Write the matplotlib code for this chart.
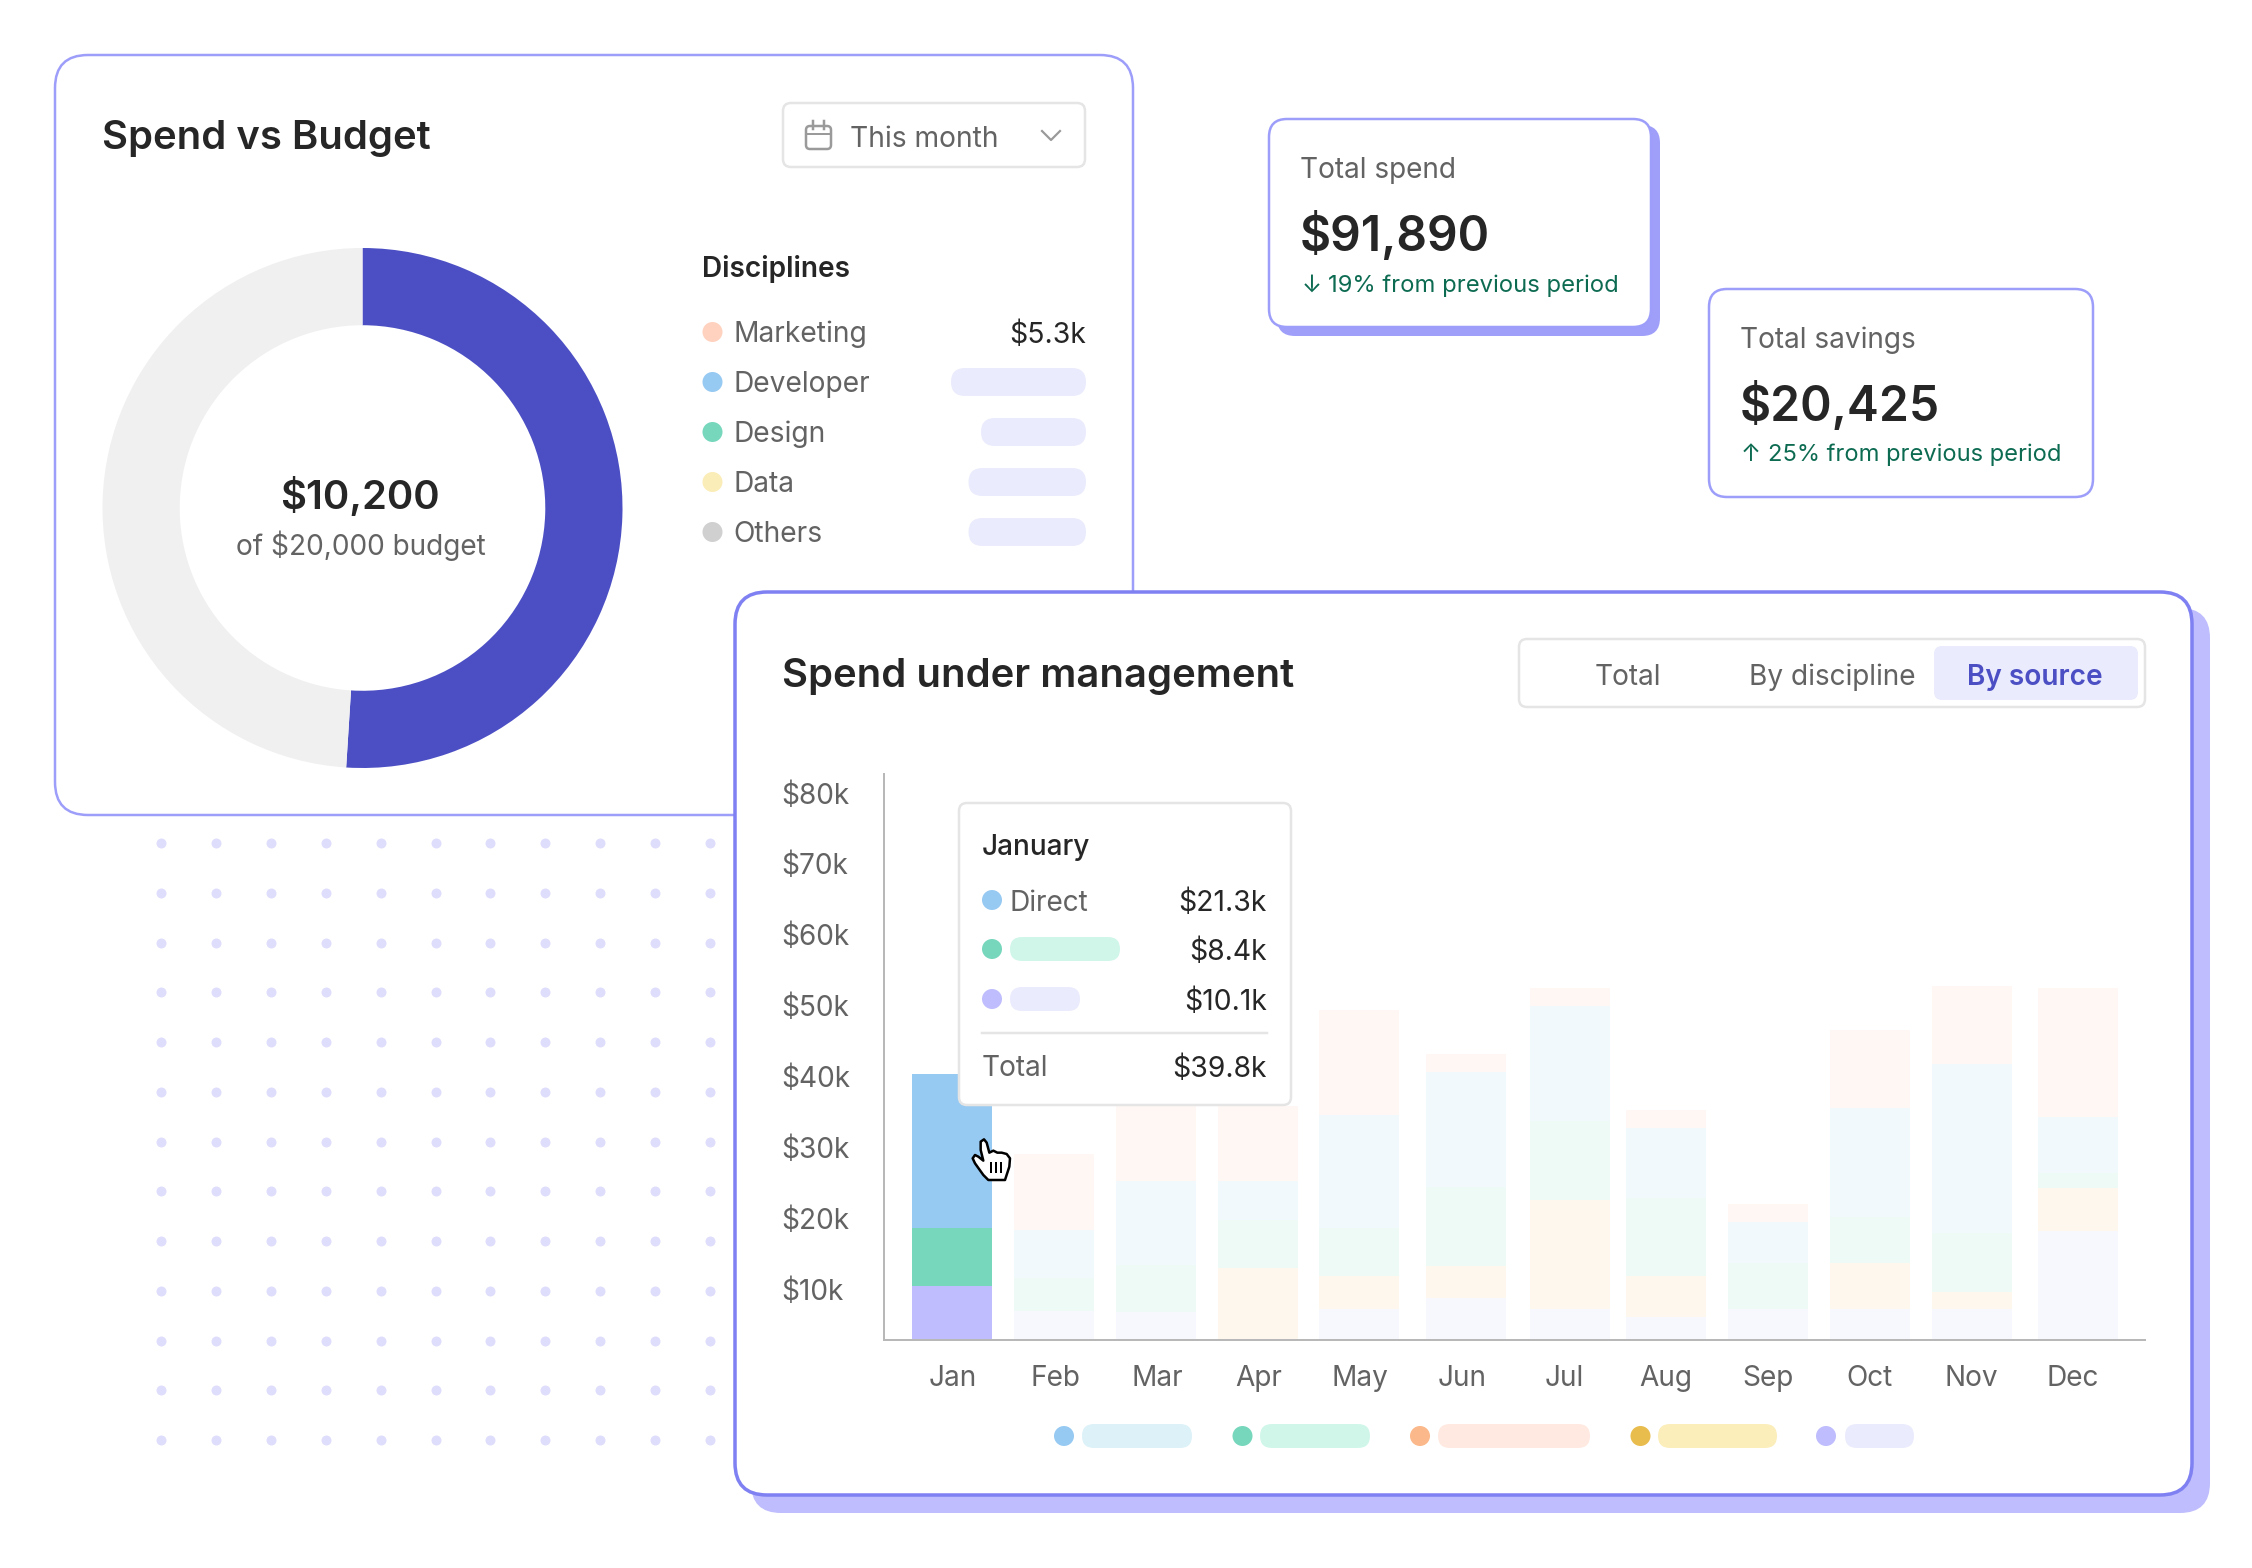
import matplotlib
matplotlib.use("Agg")
import matplotlib.pyplot as plt
import numpy as np
from matplotlib.patches import FancyBboxPatch, Circle, PathPatch
from matplotlib.path import Path

plt.rcParams['font.family'] = ['Inter', 'DejaVu Sans']

# ---------- data ----------
months = ['Jan', 'Feb', 'Mar', 'Apr', 'May', 'Jun', 'Jul', 'Aug', 'Sep', 'Oct', 'Nov', 'Dec']
y_ticks = [10, 20, 30, 40, 50, 60, 70, 80]
y_tick_labels = ['$10k', '$20k', '$30k', '$40k', '$50k', '$60k', '$70k', '$80k']
seg_lavender = [10.4, 6.9, 6.7, 0.0, 7.2, 8.7, 7.2, 6.1, 7.2, 7.2, 7.2, 18.2]
seg_cream = [0.0, 0.0, 0.0, 13.0, 4.6, 4.5, 15.4, 5.7, 0.0, 6.5, 2.4, 6.1]
seg_green = [8.2, 4.7, 6.7, 6.7, 6.8, 11.2, 11.1, 11.1, 6.5, 6.5, 8.3, 2.1]
seg_blue = [21.7, 6.8, 11.8, 5.5, 16.0, 16.2, 16.2, 9.8, 5.7, 15.3, 23.9, 7.9]
seg_red = [0.0, 10.6, 10.8, 10.6, 14.8, 2.6, 2.6, 2.6, 2.6, 11.0, 11.0, 18.2]
donut_values = [10200, 9800]
disciplines = ['Marketing', 'Developer', 'Design', 'Data', 'Others']
tooltip_values = ['$21.3k', '$8.4k', '$10.1k']

# ---------- styles ----------
W, H = 2252, 1568
INK, GREY = '#262626', '#636363'
BORDER1, BORDER3, SHADOW3, SHADOW1 = '#9D9DFA', '#7F80F2', '#BFBDFD', '#9F9FFA'
LINE, PILL, INDIGO, GREENTXT = '#E5E5E5', '#EAEBFC', '#4C4FC4', '#0D6B52'
DPI = 100
px = 72 / DPI


def T(ax, x, y, s, size, color=INK, ha='left', weight='normal'):
    if ha == 'left':
        x -= 1.5
    return ax.text(x, y, s, fontsize=size * px, color=color, ha=ha, va='center_baseline', fontweight=weight)


def RR(ax, x0, y0, x1, y1, r, fc='white', ec='none', lw=0, zorder=2):
    p = FancyBboxPatch((x0, y0), x1 - x0, y1 - y0, boxstyle=f'round,pad=0,rounding_size={r}',
                       fc=fc, ec=ec, lw=lw * px, zorder=zorder)
    ax.add_patch(p)
    return p


def pixel_axes(fig, z):
    ax = fig.add_axes([0, 0, 1, 1], zorder=z)
    ax.set_xlim(0, W)
    ax.set_ylim(H, 0)
    ax.axis('off')
    ax.patch.set_alpha(0)
    return ax


def px_rect(x0, y0, x1, y1):
    return [x0 / W, 1 - y1 / H, (x1 - x0) / W, (y1 - y0) / H]


fig = plt.figure(figsize=(W / DPI, H / DPI), dpi=DPI, facecolor='white')
bg = pixel_axes(fig, 0)

# dotted backdrop
gx, gy = np.meshgrid(161.4 + 54.84 * np.arange(11), 843 + 49.75 * np.arange(13))
bg.scatter(gx.ravel(), gy.ravel(), s=(10 * px) ** 2, c='#DEDDFB', linewidths=0, zorder=1)

# ---------- card 1 ----------
RR(bg, 55, 55, 1133, 815, 33, ec=BORDER1, lw=2.5)
T(bg, 103, 134, 'Spend vs Budget', 40, weight='semibold')
RR(bg, 783, 103, 1085, 167, 8, ec=LINE, lw=2.5)
RR(bg, 806, 126, 831, 149, 4, fc='white', ec='#9A9A9A', lw=2.5)
bg.plot([806, 831], [134, 134], color='#9A9A9A', lw=2 * px)
bg.plot([813, 813], [121, 129], color='#9A9A9A', lw=2.5 * px)
bg.plot([824, 824], [121, 129], color='#9A9A9A', lw=2.5 * px)
T(bg, 851, 136, 'This month', 28.2, color=GREY)
bg.plot([1042, 1051, 1060], [131, 140, 131], color='#9A9A9A', lw=2.2 * px)

T(bg, 703, 266, 'Disciplines', 28, weight='semibold')
dot_cols = ['#FFD2BF', '#97CAF2', '#77D7BD', '#FBEDB7', '#D0D0D0']
pill_left = [None, 951, 981, 968.5, 968.5]
for i, name in enumerate(disciplines):
    yy = 332 + 50 * i
    bg.add_patch(Circle((712.5, yy), 10, fc=dot_cols[i], ec='none', zorder=3))
    T(bg, 735, yy - 0.5, name, 28.2, color=GREY)
    if pill_left[i] is None:
        T(bg, 1086, yy, '$5.3k', 28.3, ha='right')
    else:
        RR(bg, pill_left[i], yy - 14, 1086, yy + 14, 14, fc=PILL, zorder=3)

T(bg, 359.5, 492.5, '$10,200', 40, ha='center', weight='semibold')
T(bg, 361, 543, 'of $20,000 budget', 28, ha='center', color=GREY)

# ---------- stat cards ----------
RR(bg, 1277, 125, 1660, 336, 18, fc=SHADOW1)
RR(bg, 1269, 119, 1651, 327, 18, ec=BORDER1, lw=2.5, zorder=3)
T(bg, 1301, 167.5, 'Total spend', 28, color=GREY)
T(bg, 1301, 230.5, '$91,890', 48, weight='semibold')
T(bg, 1312, 283, '\u2193', 24, color=GREENTXT, ha='center')
T(bg, 1329, 283, '19% from previous period', 23.8, color=GREENTXT)

RR(bg, 1709, 289, 2093, 497, 18, ec=BORDER1, lw=2.5, zorder=3)
T(bg, 1741, 337.5, 'Total savings', 28, color=GREY)
T(bg, 1741, 400.5, '$20,425', 48, weight='semibold')
T(bg, 1751, 452, '\u2191', 24, color=GREENTXT, ha='center')
T(bg, 1769, 452, '25% from previous period', 23.7, color=GREENTXT)

# ---------- donut ----------
ax_d = fig.add_axes(px_rect(102.5, 248, 622.5, 768), zorder=1)
ax_d.pie(donut_values, colors=[INDIGO, '#F0F0F0'], startangle=90, counterclock=False,
         radius=1, wedgeprops=dict(width=0.297, linewidth=0))
ax_d.set_xlim(-1, 1)
ax_d.set_ylim(-1, 1)

# ---------- card 3 ----------
card = pixel_axes(fig, 2)
RR(card, 751, 608, 2210, 1513, 30, fc=SHADOW3)
RR(card, 735, 592, 2192, 1495, 32, ec=BORDER3, lw=3.5, zorder=3)
T(card, 783, 672.5, 'Spend under management', 40, weight='semibold')
RR(card, 1519, 639, 2145, 707, 8, ec=LINE, lw=2.5, zorder=4)
RR(card, 1934, 646, 2138, 700, 8, fc=PILL, zorder=5)
for cx, s, c, w in [(1628, 'Total', GREY, 'normal'), (1832, 'By discipline', GREY, 'normal'),
                    (2035, 'By source', INDIGO, 'semibold')]:
    t = T(card, cx, 674, s, 28, color=c, ha='center', weight=w)
    t.set_zorder(6)
legend_dots = ['#97CAF2', '#77D7BD', '#FBB88A', '#E8BC4D', '#BFBDFD']
legend_pills = ['#DCF1F8', '#D0F6EA', '#FFE9E1', '#FBEEBB', '#EAEBFC']
dot_x = [1064, 1242.5, 1420, 1640.5, 1826]
pill_x = [(1082, 1192), (1260, 1370), (1438, 1590), (1658, 1777), (1845, 1914)]
for dc, pc, dx, (p0, p1) in zip(legend_dots, legend_pills, dot_x, pill_x):
    card.add_patch(Circle((dx, 1436), 10, fc=dc, ec='none', zorder=5))
    RR(card, p0, 1424, p1, 1448, 12, fc=pc, zorder=5)

# ---------- stacked bars ----------
ax = fig.add_axes(px_rect(884, 774, 2145, 1340), zorder=3)
ax.patch.set_alpha(0)
x_pos = np.arange(12) + np.array([0, 0, 0, .006, 0, .05, .07, .014, .016, .02, .02, .06])
ax.set_xlim((884 - 952) / 101.8, (2145 - 952) / 101.8)
ax.set_ylim(20 / 7.09, 586 / 7.09)
stack = [(seg_lavender, '#F7F8FE', '#BFBDFD'), (seg_cream, '#FEF7ED', '#FEF7ED'),
         (seg_green, '#EDFAF6', '#77D7BD'), (seg_blue, '#F1F9FC', '#97CAF2'),
         (seg_red, '#FFF7F4', '#FFF7F4')]
bottom = np.zeros(12)
for vals, faint, strong in stack:
    vals = np.array(vals)
    cols = [strong if i == 0 else faint for i in range(12)]
    ax.bar(x_pos, vals, width=80 / 101.8, bottom=bottom, color=cols, linewidth=0)
    bottom += vals
for s in ('top', 'right'):
    ax.spines[s].set_visible(False)
for s in ('left', 'bottom'):
    ax.spines[s].set_color('#B8B8B8')
    ax.spines[s].set_linewidth(2 * px)
ax.set_xticks(np.arange(12) + 0.012)
ax.set_xticklabels(months, fontsize=28 * px, color=GREY)
ax.set_yticks(y_ticks)
ax.set_yticklabels(y_tick_labels, fontsize=28 * px, color=GREY)
ax.tick_params(axis='both', length=0)
ax.tick_params(axis='x', pad=25 * px)
ax.tick_params(axis='y', pad=102.5 * px)
for t in ax.get_yticklabels():
    t.set_ha('left')

# ---------- tooltip + cursor ----------
top = pixel_axes(fig, 4)
RR(top, 959, 803, 1291, 1105, 8, ec=LINE, lw=2.5)
T(top, 983, 844, 'January', 28, weight='medium')
rows_y = [900, 949, 999]
tt_dots = ['#97CAF2', '#77D7BD', '#BFBDFD']
for yy, dc, val in zip(rows_y, tt_dots, tooltip_values):
    top.add_patch(Circle((992, yy), 10, fc=dc, ec='none', zorder=4))
    T(top, 1267, yy, val, 28.3, ha='right')
T(top, 1011, 900, 'Direct', 28, color=GREY)
RR(top, 1010, 937, 1120, 961, 12, fc='#D0F6EA', zorder=4)
RR(top, 1010, 987, 1080, 1011, 12, fc=PILL, zorder=4)
top.plot([982, 1267], [1032.5, 1032.5], color=LINE, lw=2.5 * px)
T(top, 983, 1066, 'Total', 28, color=GREY)
T(top, 1267, 1066, '$39.8k', 28.3, ha='right')

hand = [(62, 35), (72, 28), (80, 38), (88, 68), (100, 62), (112, 68), (125, 68), (140, 72), (150, 85),
        (148, 110), (135, 150), (85, 150), (70, 135), (45, 100), (38, 85), (45, 75), (55, 80), (70, 92), (62, 60)]
hand_px = [(960 + a / 3, 1130 + b / 3) for a, b in hand]
top.add_patch(PathPatch(Path(hand_px + [hand_px[0]], closed=True), fc='white', ec='black', lw=2.5 * px, zorder=6, joinstyle='round'))
for xx in (93, 108, 123):
    top.plot([960 + xx / 3] * 2, [1130 + 100 / 3, 1130 + 125 / 3], color='black', lw=2 * px, zorder=7)

fig.savefig('out.png', dpi=DPI, facecolor='white')
